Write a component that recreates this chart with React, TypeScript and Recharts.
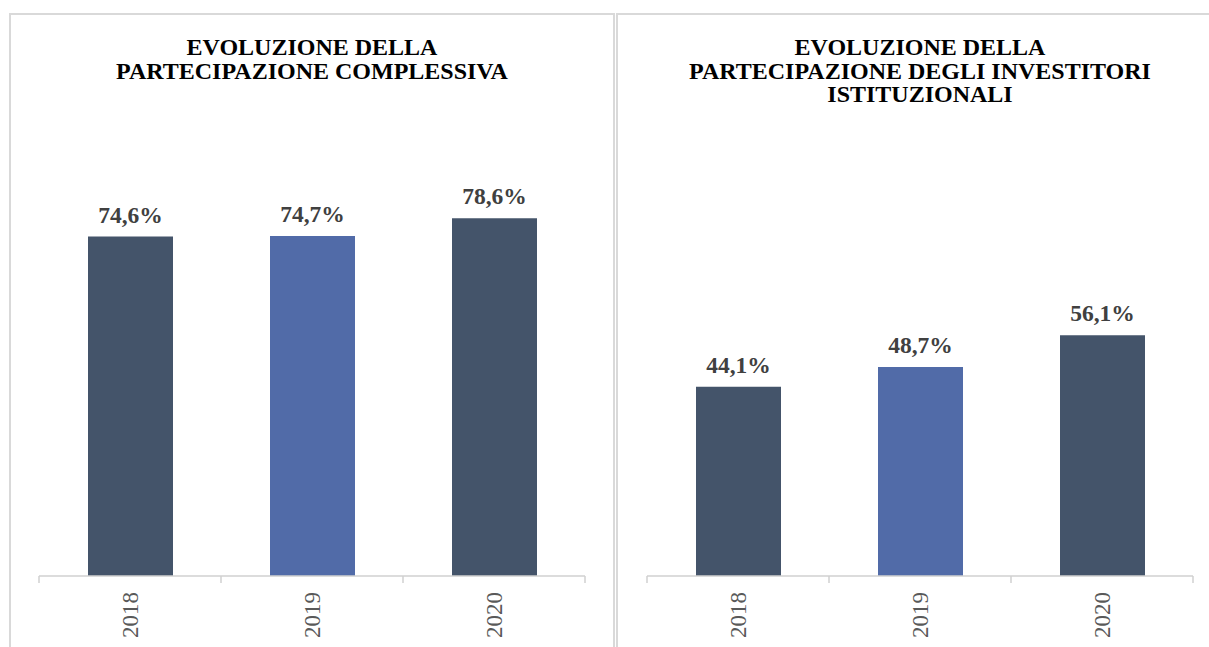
import { Bar, BarChart, Cell, LabelList, XAxis, YAxis } from "recharts";

const YEARS = ["2018", "2019", "2020"];
const OVERALL = [74.6, 74.7, 78.6];
const INSTITUTIONAL = [44.1, 48.7, 56.1];
const TITLE_LEFT = ["EVOLUZIONE DELLA", "PARTECIPAZIONE COMPLESSIVA"];
const TITLE_RIGHT = [
  "EVOLUZIONE DELLA",
  "PARTECIPAZIONE DEGLI INVESTITORI",
  "ISTITUZIONALI",
];
const BAR_COLORS = ["#44546A", "#516BA8", "#44546A"];

const FONT = '"Liberation Serif", "Times New Roman", serif';
const AXIS_Y = 576;
const PLOT_W = 546;
const BAND = PLOT_W / YEARS.length;

const fmt = (v: number) => `${v.toFixed(1).replace(".", ",")}%`;

function YearTick(props: any) {
  const { x, y, payload, index } = props;
  const left = x - BAND / 2;
  return (
    <g>
      <line x1={left} x2={left} y1={y} y2={y + 7} stroke="#d0d0d0" strokeWidth={1.5} />
      {index === YEARS.length - 1 && (
        <line x1={x + BAND / 2} x2={x + BAND / 2} y1={y} y2={y + 7} stroke="#d0d0d0" strokeWidth={1.5} />
      )}
      <text
        x={x + 7.5}
        y={y + 16}
        transform={`rotate(-90 ${x + 7.5} ${y + 16})`}
        textAnchor="end"
        fill="#595959"
        fontSize={23}
        fontFamily={FONT}
      >
        {payload.value}
      </text>
    </g>
  );
}

function Panel({
  values,
  title,
  left,
  width,
  marginLeft,
  marginRight,
  plotTop,
  titleCenter,
}: {
  values: number[];
  title: string[];
  left: number;
  width: number;
  marginLeft: number;
  marginRight: number;
  plotTop: number;
  titleCenter: number;
}) {
  const data = YEARS.map((year, i) => ({ year, value: values[i] }));
  return (
    <div style={{ position: "absolute", left, top: 0, width, height: 647 }}>
      <div
        style={{
          position: "absolute",
          left: titleCenter - 300,
          width: 600,
          top: 36,
          textAlign: "center",
          fontFamily: FONT,
          fontWeight: "bold",
          fontSize: 24,
          lineHeight: "23.5px",
          color: "#000",
        }}
      >
        {title.map((t) => (
          <div key={t}>{t}</div>
        ))}
      </div>
      <div style={{ position: "absolute", left: 0, top: 0 }}>
        <BarChart
          width={width}
          height={647}
          data={data}
          margin={{ top: plotTop, right: marginRight, bottom: 0, left: marginLeft }}
          barSize={85}
        >
          <XAxis
            dataKey="year"
            height={647 - AXIS_Y}
            axisLine={{ stroke: "#d0d0d0", strokeWidth: 1.5 }}
            tickLine={false}
            tickSize={0}
            tickMargin={0}
            interval={0}
            tick={<YearTick />}
          />
          <YAxis hide domain={[0, 100]} />
          <Bar dataKey="value" isAnimationActive={false}>
            {data.map((d, i) => (
              <Cell key={d.year} fill={BAR_COLORS[i]} />
            ))}
            <LabelList
              dataKey="value"
              position="top"
              offset={14}
              formatter={(v: any) => fmt(Number(v))}
              style={{
                fontFamily: FONT,
                fontWeight: "bold",
                fontSize: 23.5,
                fill: "#404040",
              }}
            />
          </Bar>
        </BarChart>
      </div>
    </div>
  );
}

export default function App() {
  return (
    <div
      style={{
        position: "absolute",
        left: 0,
        top: 0,
        width: 1209,
        height: 647,
        overflow: "hidden",
        background: "#fff",
      }}
    >
      <div
        style={{
          position: "absolute",
          left: 9,
          top: 13,
          width: 602,
          height: 700,
          borderTop: "2px solid #d9d9d9",
          borderLeft: "2px solid #d9d9d9",
          borderRight: "2px solid #d9d9d9",
        }}
      />
      <div
        style={{
          position: "absolute",
          left: 616,
          top: 13,
          width: 700,
          height: 700,
          borderTop: "2px solid #d9d9d9",
          borderLeft: "2px solid #d9d9d9",
        }}
      />
      <Panel
        values={OVERALL}
        title={TITLE_LEFT}
        left={0}
        width={615}
        marginLeft={39}
        marginRight={615 - 39 - PLOT_W}
        plotTop={AXIS_Y - 455}
        titleCenter={312}
      />
      <Panel
        values={INSTITUTIONAL}
        title={TITLE_RIGHT}
        left={617}
        width={592}
        marginLeft={30}
        marginRight={592 - 30 - PLOT_W}
        plotTop={AXIS_Y - 429}
        titleCenter={920 - 617}
      />
    </div>
  );
}
